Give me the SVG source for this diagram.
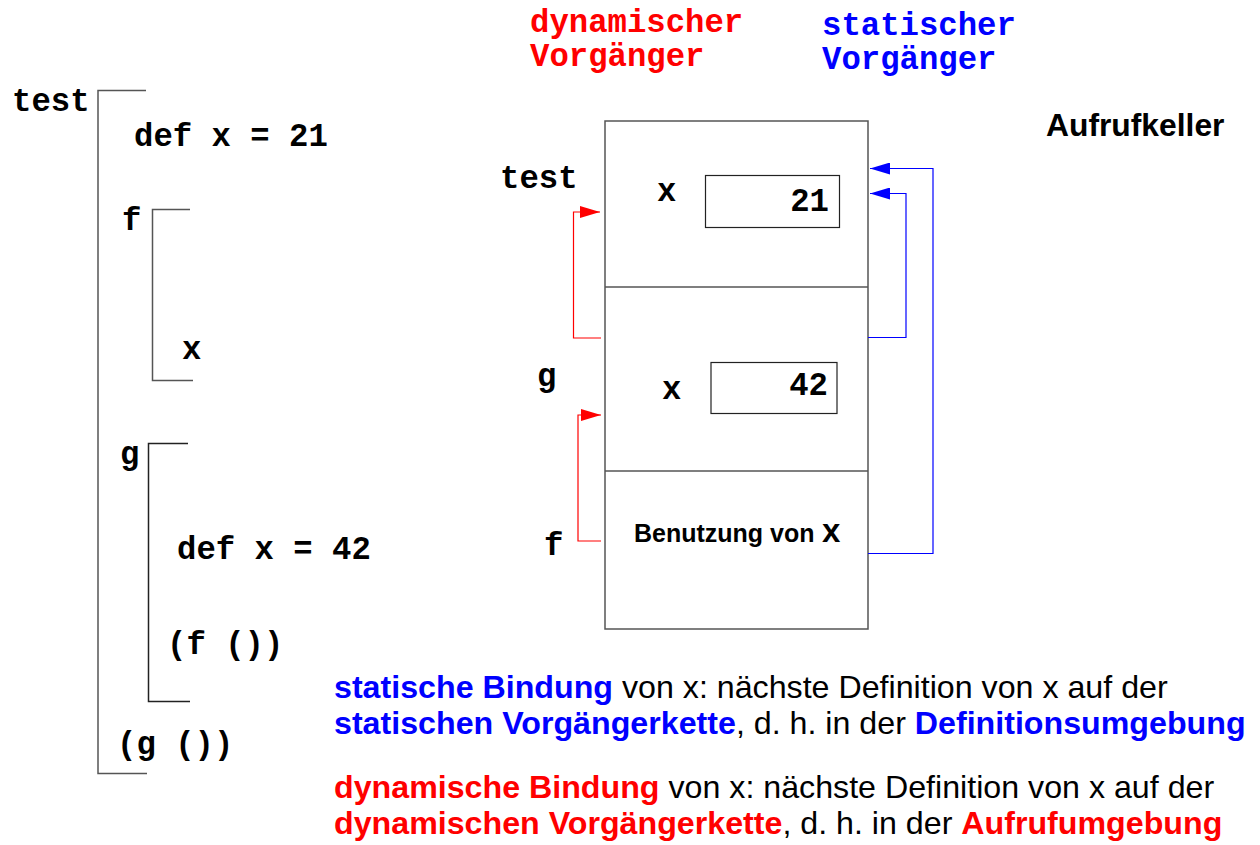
<svg xmlns="http://www.w3.org/2000/svg" width="1260" height="845" viewBox="0 0 1260 845">
<defs>
<style>
.mono{font-family:"Liberation Mono","Courier New",monospace;font-weight:bold;font-size:32.3px;fill:#000}
.sans{font-family:"Liberation Sans",Arial,sans-serif;font-size:32.2px;fill:#000}
.b{font-weight:bold}
.red{fill:#ff0000}
.blue{fill:#0000ff}
.brk{fill:none;stroke:#555;stroke-width:1.5}
.box{fill:#fff;stroke:#555;stroke-width:1.5}
.ibox{fill:none;stroke:#222;stroke-width:1.2}
.rl{fill:none;stroke:#ff0000;stroke-width:1.2}
.bl{fill:none;stroke:#0000ff;stroke-width:1.2}
</style>
<marker id="ar" markerWidth="20" markerHeight="12" refX="20" refY="6" orient="auto" markerUnits="userSpaceOnUse"><path d="M0,0 L20,6 L0,12 z" fill="#ff0000"/></marker>
<marker id="ab" markerWidth="20" markerHeight="12" refX="20" refY="6" orient="auto" markerUnits="userSpaceOnUse"><path d="M0,0 L20,6 L0,12 z" fill="#0000ff"/></marker>
</defs>
<rect width="1260" height="845" fill="#fff"/>

<g id="program">
<path class="brk" d="M146,90.5 H98 V773.5 H147"/>
<text class="mono" x="12" y="111">test</text>
<text class="mono" x="134" y="146">def x = 21</text>
<g id="f-block">
<path class="brk" d="M190,209.5 H152.5 V380.5 H193"/>
<text class="mono" x="122" y="230">f</text>
<text class="mono" x="182" y="359">x</text>
</g>
<g id="g-block">
<path class="brk" style="stroke:#222" d="M188,443.5 H148.5 V701.5 H190"/>
<text class="mono" x="120" y="464">g</text>
<text class="mono" x="177" y="559">def x = 42</text>
<text class="mono" x="167" y="654">(f ())</text>
</g>
<text class="mono" x="117" y="754">(g ())</text>
</g>

<g id="headers">
<text class="mono red" x="530" y="32">dynamischer</text>
<text class="mono red" x="530" y="66">Vorgänger</text>
<text class="mono blue" x="822" y="35">statischer</text>
<text class="mono blue" x="822" y="69">Vorgänger</text>
<text class="sans b" x="1046" y="136" style="font-size:31.8px">Aufrufkeller</text>
</g>

<g id="stack">
<rect class="box" x="605" y="121" width="263" height="508"/>
<line x1="605" y1="287" x2="868" y2="287" stroke="#555" stroke-width="1.5"/>
<line x1="605" y1="471" x2="868" y2="471" stroke="#555" stroke-width="1.5"/>
</g>
<g id="frame-test">
<text class="mono" x="500" y="188">test</text>
<text class="mono" x="657" y="201">x</text>
<rect class="ibox" x="705.5" y="175.5" width="134" height="52"/>
<text class="mono" x="829" y="211" text-anchor="end">21</text>
</g>
<g id="frame-g">
<text class="mono" x="537" y="386">g</text>
<text class="mono" x="662" y="399">x</text>
<rect class="ibox" x="711" y="362.5" width="126" height="51"/>
<text class="mono" x="828" y="395" text-anchor="end">42</text>
</g>
<g id="frame-f">
<text class="mono" x="544" y="555">f</text>
<text class="sans b" x="634" y="542" style="font-size:25px">Benutzung von <tspan class="mono" style="font-size:32.3px">x</tspan></text>
</g>

<g id="connectors">
<path class="rl" d="M601,338 H573.5 V212 H600" marker-end="url(#ar)"/>
<path class="rl" d="M601,541 H578 V415 H601" marker-end="url(#ar)"/>
<path class="bl" d="M868,337.5 H906 V193.5 H870" marker-end="url(#ab)"/>
<path class="bl" d="M868,553.5 H933 V168.5 H870" marker-end="url(#ab)"/>
</g>

<g id="notes">
<text class="sans" x="334" y="698"><tspan class="b blue">statische Bindung</tspan> von x: nächste Definition von x auf der</text>
<text class="sans" x="334" y="734"><tspan class="b blue">statischen Vorgängerkette</tspan>, d. h. in der <tspan class="b blue">Definitionsumgebung</tspan></text>
<text class="sans" x="334" y="798"><tspan class="b red">dynamische Bindung</tspan> von x: nächste Definition von x auf der</text>
<text class="sans" x="334" y="834"><tspan class="b red">dynamischen Vorgängerkette</tspan>, d. h. in der <tspan class="b red">Aufrufumgebung</tspan></text>
</g>
</svg>
